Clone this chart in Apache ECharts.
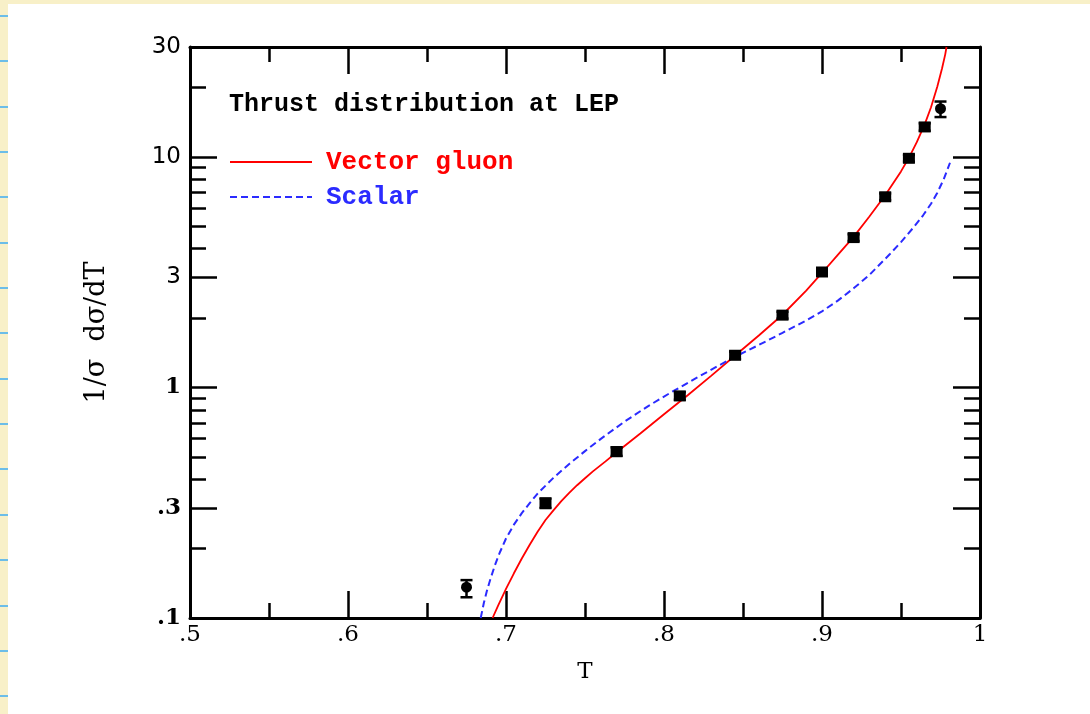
<!DOCTYPE html>
<html>
<head>
<meta charset="utf-8">
<script src="https://cdn.jsdelivr.net/npm/echarts@6/dist/echarts.min.js"></script>
<style>
html, body { margin:0; padding:0; width:1090px; height:714px; overflow:hidden; background:#f8f0c8; }
#paper { position:absolute; left:8px; top:4px; width:1082px; height:710px; background:#fff; }
#edge { position:absolute; left:0; top:0; width:8px; height:714px;
  background: repeating-linear-gradient(to bottom, transparent 0px, transparent 15px, #6cbde8 15px, #6cbde8 17px, transparent 17px, transparent 45.35px); }
#main { position:absolute; left:0; top:0; width:1090px; height:714px; }
</style>
</head>
<body>
<div id="paper"></div>
<div id="edge"></div>
<div id="main"></div>
<script>
var myChart = echarts.init(document.getElementById('main'));

// vector gluon curve
var redT = [0.6915, 0.695, 0.700, 0.705, 0.710, 0.715, 0.720, 0.725, 0.730, 0.735, 0.740, 0.745, 0.750, 0.755, 0.763, 0.771, 0.785, 0.800, 0.815, 0.830, 0.845, 0.860, 0.875, 0.890, 0.900, 0.910, 0.920, 0.930, 0.940, 0.950, 0.955, 0.960, 0.965, 0.969, 0.973, 0.976, 0.978, 0.9788];
var redY = [0.100, 0.1132, 0.1337, 0.1563, 0.1811, 0.2080, 0.2366, 0.2661, 0.2930, 0.3214, 0.3490, 0.3767, 0.4040, 0.4325, 0.4780, 0.530, 0.632, 0.765, 0.926, 1.126, 1.376, 1.681, 2.068, 2.634, 3.139, 3.764, 4.504, 5.515, 6.82, 8.66, 9.92, 11.59, 13.85, 16.43, 20.21, 24.27, 27.87, 30.0];

// scalar curve
var blueT = [0.684, 0.686, 0.688, 0.690, 0.693, 0.696, 0.700, 0.705, 0.710, 0.715, 0.720, 0.730, 0.740, 0.750, 0.760, 0.775, 0.790, 0.805, 0.820, 0.835, 0.845, 0.860, 0.875, 0.890, 0.900, 0.910, 0.920, 0.930, 0.943, 0.950, 0.958, 0.964, 0.969, 0.973, 0.977, 0.981];
var blueY = [0.100, 0.1164, 0.1318, 0.1466, 0.1694, 0.1919, 0.2213, 0.254, 0.285, 0.315, 0.3467, 0.4055, 0.4656, 0.5297, 0.5984, 0.7112, 0.8308, 0.957, 1.095, 1.249, 1.360, 1.529, 1.726, 1.954, 2.138, 2.382, 2.692, 3.076, 3.793, 4.275, 4.953, 5.585, 6.266, 6.998, 7.998, 9.44];

// LEP data
var dataT  = [0.675, 0.725, 0.770, 0.810, 0.845, 0.875, 0.900, 0.920, 0.940, 0.955, 0.965, 0.975];
var dataY  = [0.136, 0.315, 0.527, 0.919, 1.38, 2.06, 3.17, 4.47, 6.72, 9.87, 13.5, 16.2];
var dataLo = [0.123, 0.300, 0.505, 0.885, 1.33, 1.99, 3.06, 4.32, 6.50, 9.55, 13.0, 14.9];
var dataHi = [0.146, 0.330, 0.550, 0.955, 1.43, 2.13, 3.28, 4.62, 6.95, 10.2, 14.0, 17.4];

var xTicks  = [0.5, 0.6, 0.7, 0.8, 0.9, 1.0];
var xLabels = ['.5', '.6', '.7', '.8', '.9', '1'];
var yMajor  = [0.1, 0.3, 1, 3, 10, 30];
var yLabels = ['.1', '.3', '1', '3', '10', '30'];
var yMinor  = [0.2, 0.4, 0.5, 0.6, 0.7, 0.8, 0.9, 2, 4, 5, 6, 7, 8, 9, 20];

function zip(a, b) { return a.map(function (v, i) { return [v, b[i]]; }); }

function nearest(list, v) {
  for (var i = 0; i < list.length; i++) {
    if (Math.abs(v - list[i]) < 1e-6 * Math.max(1, list[i])) return i;
  }
  return -1;
}

var black = '#000';
var serif = 'DejaVu Serif';
var mono = 'Liberation Mono';

function xAxisDef(pos, withLabels) {
  return {
    type: 'value', position: pos, min: 0.5, max: 1, interval: 0.1,
    axisLine: { show: true, onZero: false, lineStyle: { color: black, width: 3 } },
    axisTick: { show: true, inside: true, length: 27, lineStyle: { color: black, width: 2.5 } },
    minorTick: { show: true, splitNumber: 2, length: 15, lineStyle: { color: black, width: 2.5 } },
    splitLine: { show: false },
    axisLabel: {
      show: withLabels, margin: 6, color: black, fontFamily: serif, fontSize: 23,
      showMinLabel: true, showMaxLabel: true,
      formatter: function (v) { var i = nearest(xTicks, v); return i < 0 ? '' : xLabels[i]; }
    },
    name: withLabels ? 'T' : '', nameLocation: 'middle', nameGap: 43,
    nameTextStyle: { color: black, fontFamily: serif, fontSize: 23 }
  };
}

function yAxisDef(pos, ticks, len, withLine, withLabels) {
  return {
    type: 'log', logBase: 10, position: pos, min: 0.1, max: 30,
    axisLine: { show: withLine, lineStyle: { color: black, width: 3 } },
    axisTick: { show: true, inside: true, length: len, customValues: ticks, lineStyle: { color: black, width: 2.5 } },
    splitLine: { show: false },
    minorTick: { show: false },
    axisLabel: {
      show: withLabels, customValues: ticks, margin: 9, color: black,
      formatter: function (v) {
        var i = nearest(yMajor, v);
        if (i < 0) return '';
        var s = yLabels[i];
        return (s === '10' || s === '30' || s === '3') ? '{s|' + s + '}' : '{r|' + s + '}';
      },
      rich: {
        s: { fontFamily: 'DejaVu Sans', fontSize: 23, color: black },
        r: { fontFamily: serif, fontSize: 23, fontWeight: 'bold', color: black }
      }
    },
    name: withLabels ? '1/\u03c3  d\u03c3/dT' : '', nameLocation: 'middle', nameGap: 80,
    nameRotate: 90,
    nameTextStyle: { color: black, fontFamily: serif, fontSize: 27 }
  };
}

var errData = dataT.map(function (t, i) { return [t, dataLo[i], dataHi[i]]; });

var option = {
  animation: false,
  title: {
    text: 'Thrust distribution at LEP', left: 229, top: 92, padding: 0,
    textStyle: { fontFamily: mono, fontSize: 25, fontWeight: 'bold', color: black }
  },
  legend: {
    orient: 'vertical', left: 229, top: 149, padding: 0,
    itemWidth: 82, itemHeight: 14, itemGap: 9,
    itemStyle: { opacity: 0 },
    textStyle: { fontFamily: mono, fontSize: 26, fontWeight: 'bold', lineHeight: 24, padding: [0, 0, 0, 9] },
    data: [
      { name: 'Vector gluon', textStyle: { color: '#ff0000' } },
      { name: 'Scalar', textStyle: { color: '#2b2bff' } }
    ]
  },
  grid: { left: 190, right: 110, top: 47, bottom: 96, containLabel: false },
  xAxis: [xAxisDef('bottom', true), xAxisDef('top', false)],
  yAxis: [
    yAxisDef('left', yMajor, 27, true, true),
    yAxisDef('left', yMinor, 16, false, false),
    yAxisDef('right', yMajor, 27, true, false),
    yAxisDef('right', yMinor, 16, false, false)
  ],
  series: [
    {
      name: 'Vector gluon', type: 'line', smooth: false, symbol: 'none',
      xAxisIndex: 0, yAxisIndex: 0, data: zip(redT, redY),
      lineStyle: { color: '#ff0000', width: 1.8 }, itemStyle: { color: '#ff0000' }, z: 3
    },
    {
      name: 'Scalar', type: 'line', smooth: false, symbol: 'none',
      xAxisIndex: 0, yAxisIndex: 0, data: zip(blueT, blueY),
      lineStyle: { color: '#2b2bff', width: 2, type: [7, 4] }, itemStyle: { color: '#2b2bff' }, z: 3
    },
    {
      name: 'errors', type: 'custom', xAxisIndex: 0, yAxisIndex: 0, z: 4,
      encode: { x: 0, y: [1, 2] },
      data: errData,
      renderItem: function (params, api) {
        var t = api.value(0);
        var pLo = api.coord([t, api.value(1)]);
        var pHi = api.coord([t, api.value(2)]);
        var hw = 6;
        var st = { stroke: black, lineWidth: 2.5 };
        return {
          type: 'group', children: [
            { type: 'line', shape: { x1: pLo[0], y1: pLo[1], x2: pHi[0], y2: pHi[1] }, style: st },
            { type: 'line', shape: { x1: pLo[0] - hw, y1: pLo[1], x2: pLo[0] + hw, y2: pLo[1] }, style: st },
            { type: 'line', shape: { x1: pHi[0] - hw, y1: pHi[1], x2: pHi[0] + hw, y2: pHi[1] }, style: st }
          ]
        };
      }
    },
    {
      name: 'data', type: 'scatter', xAxisIndex: 0, yAxisIndex: 0, z: 5,
      data: zip(dataT, dataY),
      symbol: function (v, p) { return (p.dataIndex === 0 || p.dataIndex === dataT.length - 1) ? 'circle' : 'rect'; },
      symbolSize: function (v, p) { return (p.dataIndex === 0 || p.dataIndex === dataT.length - 1) ? 11 : [12, 11]; },
      itemStyle: { color: black, opacity: 1 }
    }
  ]
};
myChart.setOption(option);
</script>
</body>
</html>
